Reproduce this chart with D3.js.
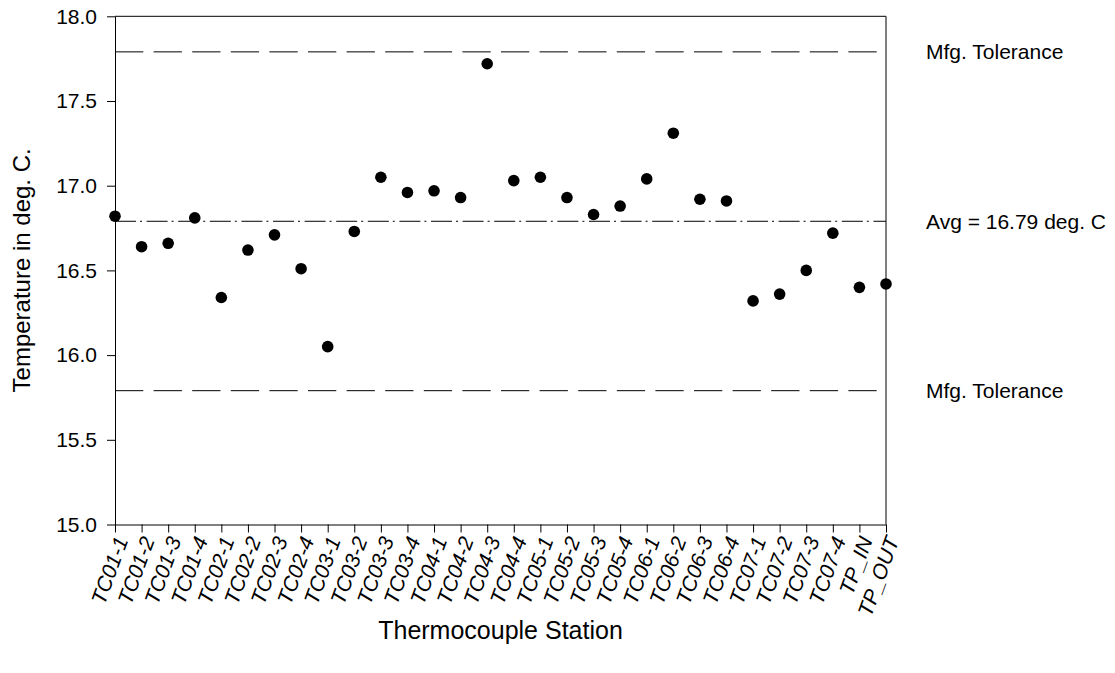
<!DOCTYPE html>
<head>
 <meta charset="utf-8">
 <script src="https://cdn.jsdelivr.net/npm/d3@7/dist/d3.min.js"></script>
 <title>Thermocouple Station</title>
</head>

<style>
body{
  margin: 0;
  background-color: white;
}
text{
  font-family: "Liberation Sans", Arial, sans-serif;
  fill: #000;
}
.axis path, .axis line{
  stroke: #000;
}
</style>

<body>
 <div id="chart"></div>
</body>

<script type="text/javascript">
 // stations along the x axis
 var stations = ["TC01-1","TC01-2","TC01-3","TC01-4","TC02-1","TC02-2","TC02-3","TC02-4",
   "TC03-1","TC03-2","TC03-3","TC03-4","TC04-1","TC04-2","TC04-3","TC04-4",
   "TC05-1","TC05-2","TC05-3","TC05-4","TC06-1","TC06-2","TC06-3","TC06-4",
   "TC07-1","TC07-2","TC07-3","TC07-4","TP_IN","TP_OUT"];

 // temperature read at each station, deg. C
 var temps = [16.82,16.64,16.66,16.81,16.34,16.62,16.71,16.51,
   16.05,16.73,17.05,16.96,16.97,16.93,17.72,17.03,
   17.05,16.93,16.83,16.88,17.04,17.31,16.92,16.91,
   16.32,16.36,16.50,16.72,16.40,16.42];

 var yTicks = [15.0,15.5,16.0,16.5,17.0,17.5,18.0];

 // reference lines
 var refValues = [17.79, 16.79, 15.79];
 var refLabels = ["Mfg. Tolerance", "Avg = 16.79 deg. C", "Mfg. Tolerance"];

 var props = {
   width: 1115,
   height: 673,
   marginTop: 16.3,
   marginBottom: 148.5,
   marginLeft: 115,
   marginRight: 229
 }

 var svg = d3.select("#chart").append("svg")
   .attr("width", props.width)
   .attr("height", props.height);

 var x = d3.scalePoint()
   .domain(stations)
   .range([props.marginLeft, props.width - props.marginRight]);

 var y = d3.scaleLinear()
   .domain([15, 18])
   .range([props.height - props.marginBottom, props.marginTop]);

 var x0 = x.range()[0], x1 = x.range()[1];
 var y0 = y.range()[0], y1 = y.range()[1];

 // frame top + right
 svg.append("path")
   .attr("d", "M" + x0 + "," + y1 + "H" + x1 + "V" + y0)
   .attr("fill", "none")
   .attr("stroke", "#000");

 // y axis
 var yAxis = svg.append("g")
   .attr("class", "axis")
   .attr("transform", "translate(" + x0 + ",0)")
   .call(d3.axisLeft(y).tickValues(yTicks).tickFormat(d3.format(".1f")).tickSize(8).tickSizeOuter(0).tickPadding(10));
 yAxis.selectAll("text").style("font-size", "21px");

 // x axis
 var xAxis = svg.append("g")
   .attr("class", "axis")
   .attr("transform", "translate(0," + y0 + ")")
   .call(d3.axisBottom(x).tickSize(8).tickSizeOuter(0));
 xAxis.selectAll("text")
   .style("font-size", "21px")
   .style("font-style", "italic")
   .attr("text-anchor", "end")
   .attr("dy", "0.35em")
   .attr("y", 0)
   .attr("transform", "translate(6,13) rotate(-70)");
 svg.selectAll(".domain").attr("stroke", "#000");

 // reference lines
 var dashes = ["28.3,10.3", "21,4,2,4.6", "28.3,10.3"];
 svg.selectAll(".ref")
   .data(refValues)
   .enter().append("line")
   .attr("class", "ref")
   .attr("x1", x0)
   .attr("x2", x1)
   .attr("y1", function(d){ return y(d); })
   .attr("y2", function(d){ return y(d); })
   .attr("stroke", "#000")
   .attr("stroke-width", 1)
   .attr("stroke-dasharray", function(d, i){ return dashes[i]; });

 svg.selectAll(".reflabel")
   .data(refValues)
   .enter().append("text")
   .attr("class", "reflabel")
   .attr("x", x1 + 40)
   .attr("y", function(d){ return y(d); })
   .attr("dy", "0.35em")
   .style("font-size", "21px")
   .text(function(d, i){ return refLabels[i]; });

 // points
 svg.selectAll(".dot")
   .data(temps)
   .enter().append("circle")
   .attr("class", "dot")
   .attr("cx", function(d, i){ return x(stations[i]); })
   .attr("cy", function(d){ return y(d); })
   .attr("r", 5.8)
   .attr("fill", "#000");

 // axis titles
 svg.append("text")
   .attr("x", (x0 + x1) / 2)
   .attr("y", 639)
   .attr("text-anchor", "middle")
   .style("font-size", "25px")
   .text("Thermocouple Station");

 svg.append("text")
   .attr("transform", "translate(30," + (y0 + y1) / 2 + ") rotate(-90)")
   .attr("text-anchor", "middle")
   .style("font-size", "24px")
   .text("Temperature in deg. C.");
</script>
